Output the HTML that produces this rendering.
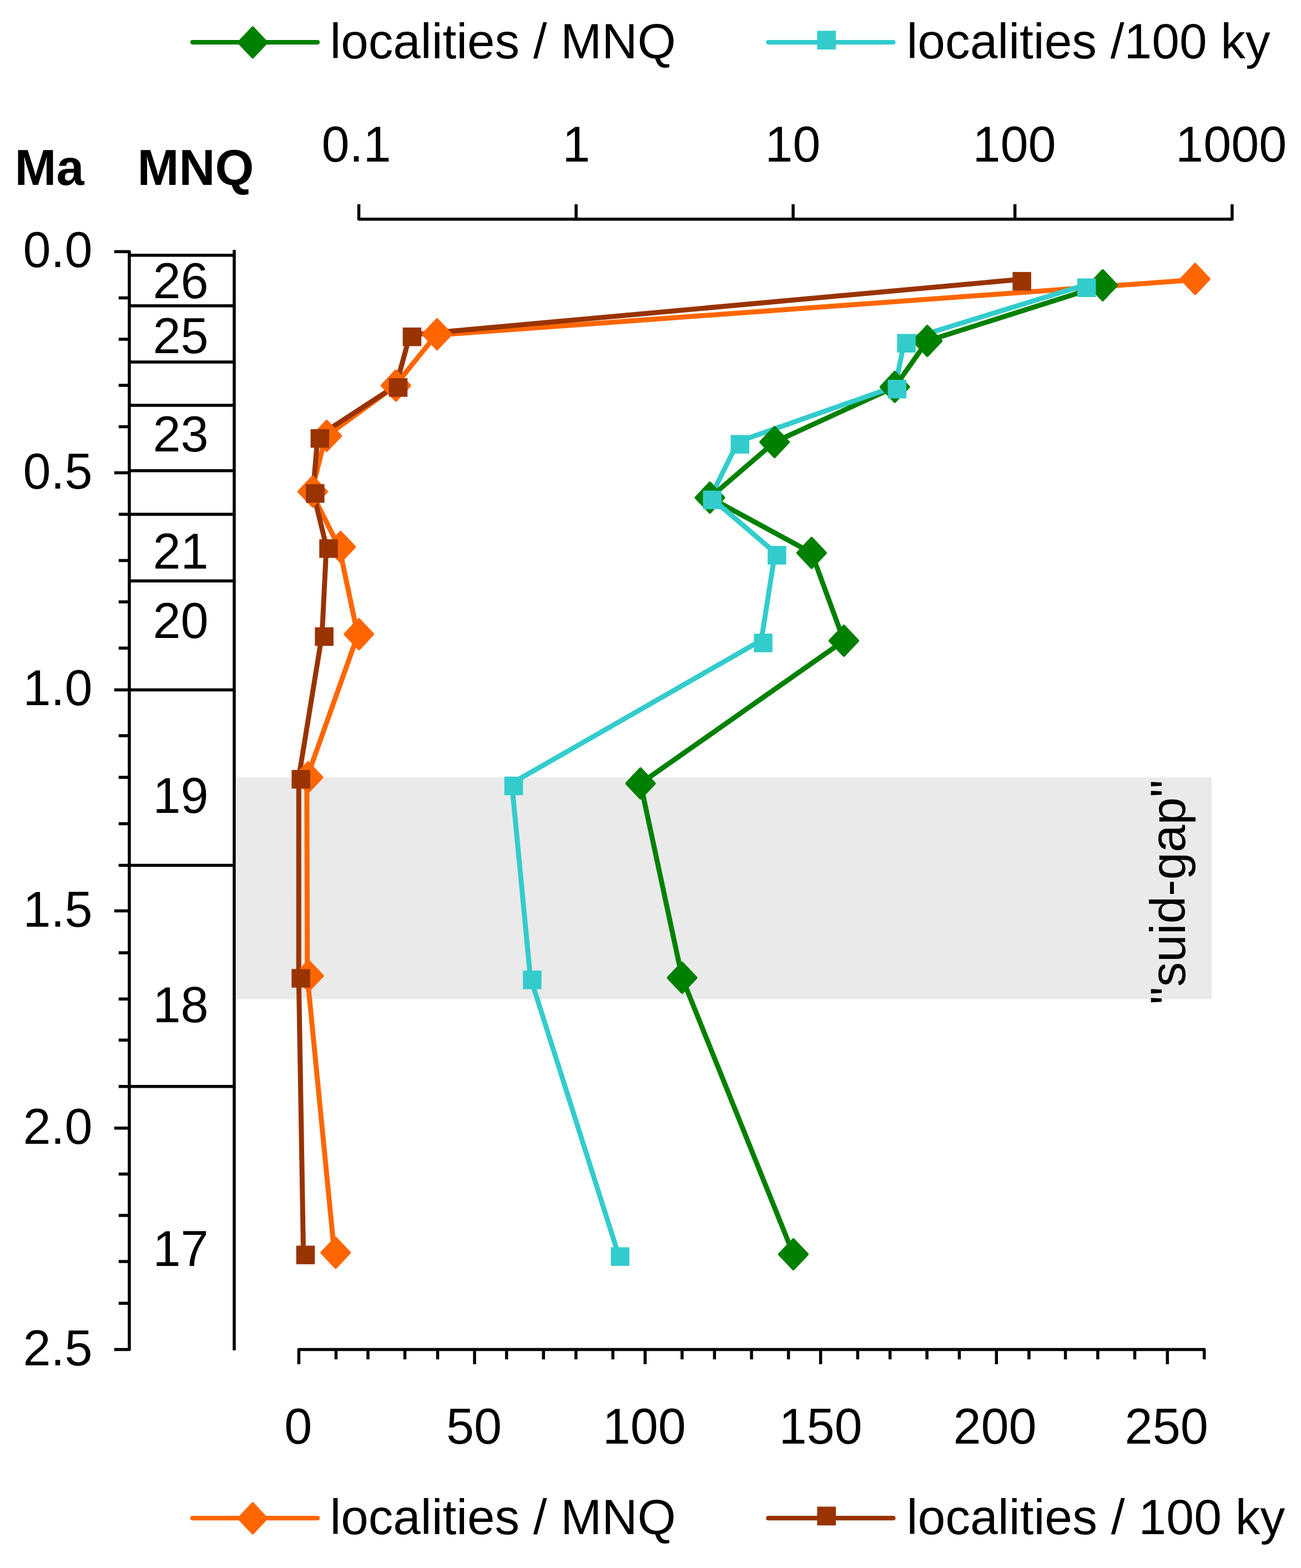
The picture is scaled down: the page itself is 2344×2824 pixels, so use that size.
<!DOCTYPE html><html><head><meta charset="utf-8"><title>localities chart</title><style>html,body{margin:0;padding:0;background:#fff;width:2344px;height:2824px}svg{display:block}text{font-family:"Liberation Sans",sans-serif;fill:#000}</style></head><body>
<svg width="2344" height="2824" viewBox="0 0 2344 2824">
<rect width="2344" height="2824" fill="#fff"/>
<rect x="426" y="1400" width="1757" height="399.5" fill="#EAEAEA"/>
<polyline points="347,76.1 572,76.1" fill="none" stroke="#008000" stroke-width="8.2" stroke-linejoin="round" stroke-linecap="round"/><polygon points="455.3,49.9 480.4,76.5 455.3,103.1 430.2,76.5" fill="#008000" stroke="#008000" stroke-width="4.8" stroke-linejoin="round"/><text x="594.6" y="104.7" font-size="89">localities / MNQ</text>
<polyline points="1384.3,76.1 1609.4,76.1" fill="none" stroke="#33CCCC" stroke-width="8.2" stroke-linejoin="round" stroke-linecap="round"/><rect x="1472.2" y="55.4" width="33.8" height="33.8" fill="#33CCCC"/><text x="1633.5" y="104.7" font-size="89.3">localities /100 ky</text>
<polyline points="347,2734.2 572,2734.2" fill="none" stroke="#FF6600" stroke-width="8.2" stroke-linejoin="round" stroke-linecap="round"/><polygon points="455.3,2708 480.4,2734.6 455.3,2761.2 430.2,2734.6" fill="#FF6600" stroke="#FF6600" stroke-width="4.8" stroke-linejoin="round"/><text x="594.6" y="2762.8" font-size="89">localities / MNQ</text>
<polyline points="1384.3,2734.2 1609.4,2734.2" fill="none" stroke="#993300" stroke-width="8.2" stroke-linejoin="round" stroke-linecap="round"/><rect x="1472.2" y="2713.5" width="33.8" height="33.8" fill="#993300"/><text x="1633.5" y="2762.8" font-size="89.55">localities / 100 ky</text>
<text x="26.5" y="333.2" font-size="90" font-weight="bold">Ma</text>
<text x="247.6" y="332.9" font-size="90" font-weight="bold">MNQ</text>
<path d="M646.5,367.8 V394.8 H2219.9 V367.8 M1038,367.8 V394.8 M1429,367.8 V394.8 M1828.6,367.8 V394.8" fill="none" stroke="#000" stroke-width="5.5" stroke-linejoin="round" stroke-linecap="butt"/>
<text x="642.1" y="291.1" font-size="90" text-anchor="middle">0.1</text>
<text x="1038.2" y="291.1" font-size="90" text-anchor="middle">1</text>
<text x="1428.2" y="291.1" font-size="90" text-anchor="middle">10</text>
<text x="1827.5" y="291.1" font-size="90" text-anchor="middle">100</text>
<text x="2218.2" y="291.1" font-size="90" text-anchor="middle">1000</text>
<path d="M205.8,453.3 H233 V2430.6 H205.8 M213.8,536.5 H233 M213.8,611 H233 M213.8,694 H233 M213.8,768.6 H233 M205.8,851.5 H233 M213.8,926.2 H233 M213.8,1009.4 H233 M213.8,1084 H233 M213.8,1167.3 H233 M205.8,1242.6 H233 M213.8,1325 H233 M213.8,1400 H233 M213.8,1483.6 H233 M213.8,1558.6 H233 M205.8,1640.6 H233 M213.8,1716 H233 M213.8,1799.2 H233 M213.8,1873.2 H233 M213.8,1956.8 H233 M205.8,2031.7 H233 M213.8,2114.5 H233 M213.8,2188.9 H233 M213.8,2272.1 H233 M213.8,2347.2 H233" fill="none" stroke="#000" stroke-width="5.5" stroke-linejoin="round"/>
<text x="166.7" y="480.6" font-size="90" text-anchor="end">0.0</text>
<text x="166.7" y="879.8" font-size="90" text-anchor="end">0.5</text>
<text x="166.7" y="1270.3" font-size="90" text-anchor="end">1.0</text>
<text x="166.7" y="1669" font-size="90" text-anchor="end">1.5</text>
<text x="166.7" y="2059.6" font-size="90" text-anchor="end">2.0</text>
<text x="166.7" y="2458.8" font-size="90" text-anchor="end">2.5</text>
<path d="M233,459.8 H422 M422,450 V2432 M233,550.8 H422 M233,652 H422 M233,729.9 H422 M233,847.8 H422 M233,926.2 H422 M233,1046.3 H422 M233,1242.5 H422 M233,1558.6 H422 M233,1956.8 H422" fill="none" stroke="#000" stroke-width="5.5" stroke-linecap="butt"/>
<text x="325.5" y="537.3" font-size="90" text-anchor="middle">26</text>
<text x="325.5" y="636.3" font-size="90" text-anchor="middle">25</text>
<text x="325.5" y="813" font-size="90" text-anchor="middle">23</text>
<text x="325.5" y="1024" font-size="90" text-anchor="middle">21</text>
<text x="325.5" y="1149.3" font-size="90" text-anchor="middle">20</text>
<text x="325.5" y="1463.8" font-size="90" text-anchor="middle">19</text>
<text x="325.5" y="1841.3" font-size="90" text-anchor="middle">18</text>
<text x="325.5" y="2280" font-size="90" text-anchor="middle">17</text>
<path d="M538.4,2457 V2430.4 H2169.7 V2448.2 M605.4,2430.4 V2448.2 M663,2430.4 V2448.2 M729.5,2430.4 V2448.2 M788.5,2430.4 V2448.2 M855,2430.4 V2457 M912.7,2430.4 V2448.2 M979.2,2430.4 V2448.2 M1037.7,2430.4 V2448.2 M1104.2,2430.4 V2448.2 M1162.3,2430.4 V2457 M1228.9,2430.4 V2448.2 M1287.3,2430.4 V2448.2 M1354,2430.4 V2448.2 M1420.6,2430.4 V2448.2 M1478.5,2430.4 V2457 M1545.3,2430.4 V2448.2 M1603.6,2430.4 V2448.2 M1670.1,2430.4 V2448.2 M1728.4,2430.4 V2448.2 M1795.3,2430.4 V2457 M1853.9,2430.4 V2448.2 M1919.6,2430.4 V2448.2 M1977.9,2430.4 V2448.2 M2044.5,2430.4 V2448.2 M2103.3,2430.4 V2457" fill="none" stroke="#000" stroke-width="5.5" stroke-linejoin="round"/>
<text x="537.3" y="2600.3" font-size="90" text-anchor="middle">0</text>
<text x="854" y="2600.3" font-size="90" text-anchor="middle">50</text>
<text x="1160.8" y="2600.3" font-size="90" text-anchor="middle">100</text>
<text x="1478.6" y="2600.3" font-size="90" text-anchor="middle">150</text>
<text x="1792.6" y="2600.3" font-size="90" text-anchor="middle">200</text>
<text x="2101.7" y="2600.3" font-size="90" text-anchor="middle">250</text>
<polyline points="2151.1,504 785.2,603.5 711,695.9 586.4,786.5 561.2,886.8 611.4,986.5 644.5,1143.7 552.8,1401.5 553.8,1759 602.5,2257.7" fill="none" stroke="#FF6600" stroke-width="9.0" stroke-linejoin="round" stroke-linecap="round"/>
<polyline points="1837.2,503.25 738.5,603.25 713.5,694.55 572.4,786.35 563.9,885.45 588.1,984.65 580.2,1143.15 538.3,1400.15 538.2,1758.65 546.6,2256.85" fill="none" stroke="#993300" stroke-width="9.0" stroke-linejoin="round" stroke-linecap="round"/>
<polygon points="2153.3,475.9 2178.4,502.5 2153.3,529.1 2128.2,502.5" fill="#FF6600" stroke="#FF6600" stroke-width="4.8" stroke-linejoin="round"/>
<polygon points="787.4,575.4 812.5,602 787.4,628.6 762.3,602" fill="#FF6600" stroke="#FF6600" stroke-width="4.8" stroke-linejoin="round"/>
<polygon points="713.2,667.8 738.3,694.4 713.2,721 688.1,694.4" fill="#FF6600" stroke="#FF6600" stroke-width="4.8" stroke-linejoin="round"/>
<polygon points="588.6,758.4 613.7,785 588.6,811.6 563.5,785" fill="#FF6600" stroke="#FF6600" stroke-width="4.8" stroke-linejoin="round"/>
<polygon points="563.4,858.7 588.5,885.3 563.4,911.9 538.3,885.3" fill="#FF6600" stroke="#FF6600" stroke-width="4.8" stroke-linejoin="round"/>
<polygon points="613.6,958.4 638.7,985 613.6,1011.6 588.5,985" fill="#FF6600" stroke="#FF6600" stroke-width="4.8" stroke-linejoin="round"/>
<polygon points="646.7,1115.6 671.8,1142.2 646.7,1168.8 621.6,1142.2" fill="#FF6600" stroke="#FF6600" stroke-width="4.8" stroke-linejoin="round"/>
<polygon points="555,1373.4 580.1,1400 555,1426.6 529.9,1400" fill="#FF6600" stroke="#FF6600" stroke-width="4.8" stroke-linejoin="round"/>
<polygon points="556,1730.9 581.1,1757.5 556,1784.1 530.9,1757.5" fill="#FF6600" stroke="#FF6600" stroke-width="4.8" stroke-linejoin="round"/>
<polygon points="604.7,2229.6 629.8,2256.2 604.7,2282.8 579.6,2256.2" fill="#FF6600" stroke="#FF6600" stroke-width="4.8" stroke-linejoin="round"/>
<rect x="1824.35" y="489.85" width="33.5" height="33.5" fill="#993300"/>
<rect x="725.65" y="589.85" width="33.5" height="33.5" fill="#993300"/>
<rect x="700.65" y="681.15" width="33.5" height="33.5" fill="#993300"/>
<rect x="559.55" y="772.95" width="33.5" height="33.5" fill="#993300"/>
<rect x="551.05" y="872.05" width="33.5" height="33.5" fill="#993300"/>
<rect x="575.25" y="971.25" width="33.5" height="33.5" fill="#993300"/>
<rect x="567.35" y="1129.75" width="33.5" height="33.5" fill="#993300"/>
<rect x="525.45" y="1386.75" width="33.5" height="33.5" fill="#993300"/>
<rect x="525.35" y="1745.25" width="33.5" height="33.5" fill="#993300"/>
<rect x="533.75" y="2243.45" width="33.5" height="33.5" fill="#993300"/>
<polyline points="1986.8,513.8 1670.7,614 1612.2,696.8 1395.5,796.2 1279,896.3 1462.3,995.8 1520.4,1154 1154,1411 1229,1761 1429.4,2259" fill="none" stroke="#008000" stroke-width="9.0" stroke-linejoin="round" stroke-linecap="round"/>
<polyline points="1954.3,513.45 1629.6,613.45 1612.9,696.05 1329.8,795.45 1279.9,895.65 1396.4,995.25 1371.6,1153.25 922.1,1410.65 955.5,1760.05 1113.9,2258.35" fill="none" stroke="#33CCCC" stroke-width="9.0" stroke-linejoin="round" stroke-linecap="round"/>
<polygon points="1986.8,487.2 2011.9,513.8 1986.8,540.4 1961.7,513.8" fill="#008000" stroke="#008000" stroke-width="4.8" stroke-linejoin="round"/>
<polygon points="1670.7,587.4 1695.8,614 1670.7,640.6 1645.6,614" fill="#008000" stroke="#008000" stroke-width="4.8" stroke-linejoin="round"/>
<polygon points="1612.2,670.2 1637.3,696.8 1612.2,723.4 1587.1,696.8" fill="#008000" stroke="#008000" stroke-width="4.8" stroke-linejoin="round"/>
<polygon points="1395.5,769.6 1420.6,796.2 1395.5,822.8 1370.4,796.2" fill="#008000" stroke="#008000" stroke-width="4.8" stroke-linejoin="round"/>
<polygon points="1279,869.7 1304.1,896.3 1279,922.9 1253.9,896.3" fill="#008000" stroke="#008000" stroke-width="4.8" stroke-linejoin="round"/>
<polygon points="1462.3,969.2 1487.4,995.8 1462.3,1022.4 1437.2,995.8" fill="#008000" stroke="#008000" stroke-width="4.8" stroke-linejoin="round"/>
<polygon points="1520.4,1127.4 1545.5,1154 1520.4,1180.6 1495.3,1154" fill="#008000" stroke="#008000" stroke-width="4.8" stroke-linejoin="round"/>
<polygon points="1154,1384.4 1179.1,1411 1154,1437.6 1128.9,1411" fill="#008000" stroke="#008000" stroke-width="4.8" stroke-linejoin="round"/>
<polygon points="1229,1734.4 1254.1,1761 1229,1787.6 1203.9,1761" fill="#008000" stroke="#008000" stroke-width="4.8" stroke-linejoin="round"/>
<polygon points="1429.4,2232.4 1454.5,2259 1429.4,2285.6 1404.3,2259" fill="#008000" stroke="#008000" stroke-width="4.8" stroke-linejoin="round"/>
<rect x="1940.95" y="501.45" width="33.5" height="33.5" fill="#33CCCC"/>
<rect x="1616.25" y="601.45" width="33.5" height="33.5" fill="#33CCCC"/>
<rect x="1599.55" y="684.05" width="33.5" height="33.5" fill="#33CCCC"/>
<rect x="1316.45" y="783.45" width="33.5" height="33.5" fill="#33CCCC"/>
<rect x="1266.55" y="883.65" width="33.5" height="33.5" fill="#33CCCC"/>
<rect x="1383.05" y="983.25" width="33.5" height="33.5" fill="#33CCCC"/>
<rect x="1358.25" y="1141.25" width="33.5" height="33.5" fill="#33CCCC"/>
<rect x="908.75" y="1398.65" width="33.5" height="33.5" fill="#33CCCC"/>
<rect x="942.15" y="1748.05" width="33.5" height="33.5" fill="#33CCCC"/>
<rect x="1100.55" y="2246.35" width="33.5" height="33.5" fill="#33CCCC"/>
<text transform="translate(2135.3,1808.9) rotate(-90)" font-size="89">"suid-gap"</text>
</svg></body></html>
